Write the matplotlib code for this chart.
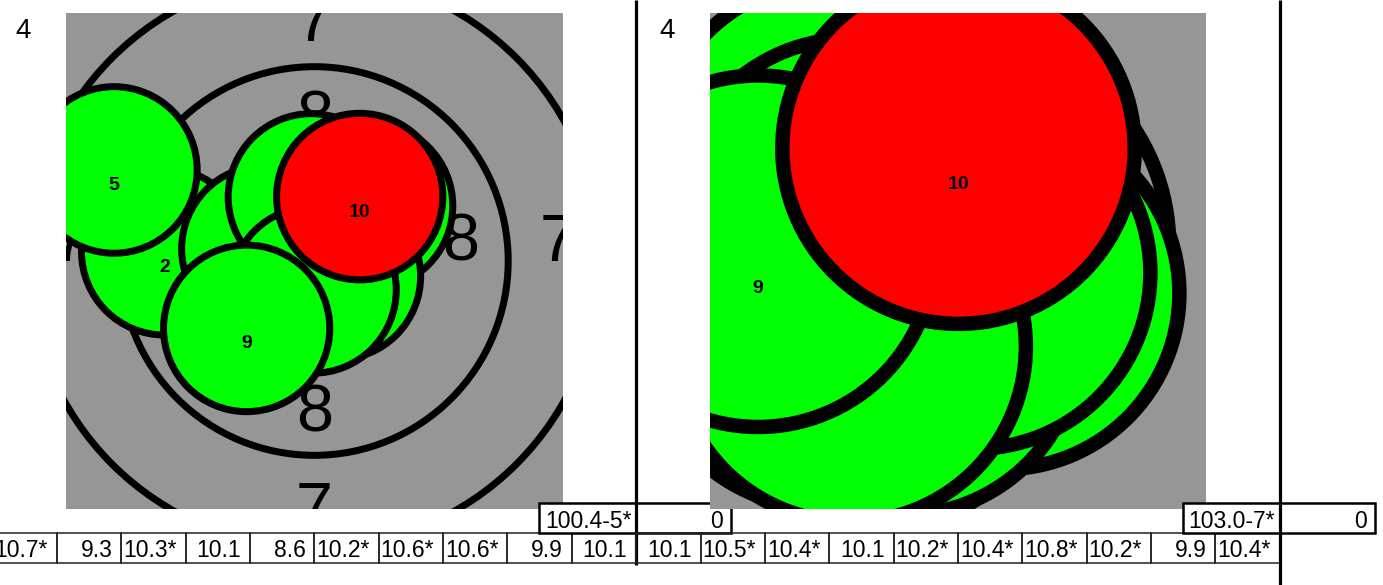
import matplotlib.pyplot as plt
from matplotlib.patches import Circle, Rectangle

plt.rcParams['font.family'] = ['Liberation Sans', 'DejaVu Sans']

# series number shown top-left of each card
series = ['4', '4']
# decimal scores, shot 1..10
scores_a = [10.7, 9.3, 10.3, 10.1, 8.6, 10.2, 10.6, 10.6, 9.9, 10.1]
scores_b = [10.1, 10.5, 10.4, 10.1, 10.2, 10.4, 10.8, 10.2, 9.9, 10.4]
penalty = [0, 0]

# shot centres in mm from the target centre
shots_ax = [0.36, -4.05, -1.34, 1.50, -5.42, -0.08, 0.63, -0.03, -1.83, 1.23]
shots_ay = [-0.34, 0.25, 0.33, 1.49, 2.46, 1.73, -0.41, -0.78, -1.82, 1.74]
shots_bx = [-1.56, 0.63, -1.32, -1.70, -1.00, -0.65, 0.26, -1.33, -2.50, 0.06]
shots_by = [1.14, -0.61, 0.40, -1.10, -1.40, -1.20, -0.35, -1.29, -0.07, 1.25]

# 10m air rifle rings (radius, mm) and printed ring numbers
ring_r = [2.75, 5.25, 7.75]
ring_num = ['8', '7']
ring_num_r = [3.97, 6.6]
pellet_r = 2.25

W, H = 1383, 585
fig = plt.figure(figsize=(W / 100, H / 100), dpi=100)

PANEL_W = 643.5
CELL_W = PANEL_W / 10


def txt(ax, x, yc, s, fs, ppm, **kw):
    # place glyph centre (digits) at yc, in data units (mm)
    cap = 0.716 * fs * 100 / 72 / ppm
    ax.text(x, yc - cap / 2, s, ha='center', va='baseline', fontsize=fs,
            clip_on=True, **kw)


def draw_panel(k, ox, xs, ys, scores, view, lw_px, lab_off, line_end):
    # target picture
    ax = fig.add_axes([(ox + 73.3) / W, 1 - 509 / H, 496.5 / W, 496 / H],
                      zorder=2 * k + 1)
    ax.set_facecolor('#969696')
    ax.set_xlim(view[0], view[1])
    ax.set_ylim(view[2], view[3])
    ax.set_xticks([])
    ax.set_yticks([])
    for s in ax.spines.values():
        s.set_visible(False)
    ppm = 496.5 / (view[1] - view[0])
    lw = lw_px * 0.72
    for r in ring_r:
        ax.add_patch(Circle((0, 0), r, fill=False, ec='k', lw=lw, zorder=1))
    for num, r in zip(ring_num, ring_num_r):
        for dx, dy in [(0, 1), (0, -1), (1, 0), (-1, 0)]:
            yc = dy * r + (0.65 if dx else 0)
            txt(ax, dx * r, yc, num, 48, ppm, zorder=2)
    n = len(xs)
    for i in range(n):
        col = '#ff0000' if i == n - 1 else '#00ff00'
        ax.add_patch(Circle((xs[i], ys[i]), pellet_r, fc=col, ec='k', lw=lw,
                            zorder=10 + 2 * i))
        txt(ax, xs[i], ys[i] - lab_off, str(i + 1), 14, ppm,
            fontweight='bold', zorder=11 + 2 * i)

    # score card overlay in pixel coords
    ov = fig.add_axes([0, 0, 1, 1], zorder=2 * k + 2)
    ov.set_xlim(0, W)
    ov.set_ylim(H, 0)
    ov.axis('off')
    ov.patch.set_alpha(0)
    ov.text(ox + 23, 38, series[k], fontsize=20, ha='left', va='baseline')
    for j, s in enumerate(scores):
        x0 = ox + j * CELL_W
        ov.add_patch(Rectangle((x0, 533), CELL_W, 30, fc='none', ec='#222222',
                               lw=1.1))
        lab = f'{s:.1f}' + ('*' if s >= 10.2 else '')
        ov.text(x0 + CELL_W - 9, 557, lab, fontsize=16.5, ha='right',
                va='baseline')
    total = sum(scores)
    inner = sum(1 for s in scores if s >= 10.2)
    bx = ox + 546.3
    ov.add_patch(Rectangle((bx, 503), PANEL_W - 546.3, 30, fc='white',
                           ec='k', lw=1.8, zorder=3))
    ov.text(bx + 6, 528, f'{total:.1f}-{inner}*', fontsize=16.5, ha='left',
            va='baseline', zorder=4)
    px = ox + PANEL_W
    ov.add_patch(Rectangle((px, 503), 95, 30, fc='white', ec='k', lw=1.8,
                           zorder=3))
    ov.text(px + 95 - 8, 528, str(penalty[k]), fontsize=16.5, ha='right',
            va='baseline', zorder=4)
    ov.plot([px, px], [0, line_end], color='k', lw=2.3,
            solid_capstyle='butt', zorder=5)


draw_panel(0, -7.3, shots_ax, shots_ay, scores_a,
           (-6.72, 6.72, -6.70, 6.70), 7, 0.35, 565)
draw_panel(1, -7.3 + PANEL_W, shots_bx, shots_by, scores_b,
           (-3.12, 3.22, -3.37, 2.98), 14.5, 0.44, 585)

fig.savefig('out.png', dpi=100)
